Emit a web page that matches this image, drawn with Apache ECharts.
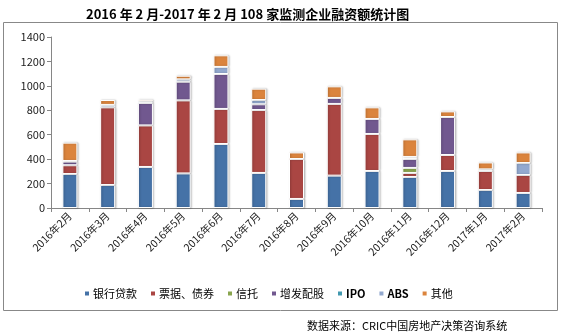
<!DOCTYPE html>
<html><head><meta charset="utf-8">
<script src="https://cdn.jsdelivr.net/npm/echarts@6/dist/echarts.min.js"></script>
<style>html,body{margin:0;padding:0;background:#fff}#c{width:561px;height:336px}</style>
</head><body><div id="c"></div>
<script>
const categories = ['2016年2月','2016年3月','2016年4月','2016年5月','2016年6月','2016年7月','2016年8月','2016年9月','2016年10月','2016年11月','2016年12月','2017年1月','2017年2月'];
const bankLoans = [278,188,336,283,524,287,74,265,303,254,303,147,123];
const notesBonds = [72,636,340,598,287,515,327,587,303,33,131,156,147];
const trust = [0,0,0,0,0,0,0,0,0,41,0,13,0];
const placement = [30,0,184,153,286,47,0,49,123,73,311,0,0];
const ipo = [0,0,0,0,0,0,0,0,0,0,0,0,0];
const abs = [5,20,13,19,58,35,0,0,0,17,0,0,98];
const others = [150,40,14,30,95,93,54,95,95,144,46,57,87];
const yTicks = [0,200,400,600,800,1000,1200,1400];

const names = ['银行贷款','票据、债券','信托','增发配股','IPO','ABS','其他'];
const colors = ['#4572A7','#AA4643','#89A54E','#71588F','#4198AF','#93A9CF','#DB843D'];
const datas = [bankLoans, notesBonds, trust, placement, ipo, abs, others];

const chart = echarts.init(document.getElementById('c'));
chart.setOption({
  animation:false,
  textStyle:{fontFamily:'"Noto Sans CJK SC", "Open Sans", sans-serif'},
  title:{text:'2016 年 2 月-2017 年 2 月 108 家监测企业融资额统计图', left:81, top:3,
    textStyle:{fontSize:13, fontWeight:'bold', color:'#000', fontFamily:'"Noto Sans CJK SC", sans-serif'}},
  graphic:[
    {type:'rect', shape:{x:3.5,y:22.5,width:554,height:288}, style:{fill:'none', stroke:'#888', lineWidth:1}, silent:true},
    {type:'text', left:307, top:320, style:{text:'数据来源：CRIC中国房地产决策咨询系统', fontSize:11, fill:'#000', fontFamily:'"Noto Sans CJK SC", sans-serif'}}
  ],
  legend:{left:78, top:283, itemWidth:6, itemHeight:6, itemGap:12, icon:'rect',
    formatter:n=>(n==='IPO'||n==='ABS')?'{b|'+n+'}':n,
    textStyle:{fontSize:11, color:'#000', padding:[0,0,0,-2],
      rich:{b:{fontSize:11, fontWeight:'bold', color:'#000'}}}, data:names},
  grid:{left:51, right:19, top:37, bottom:128},
  xAxis:{type:'category', data:categories,
    axisLine:{lineStyle:{color:'#868686'}},
    axisTick:{show:true, lineStyle:{color:'#868686'}, length:4},
    axisLabel:{rotate:45, fontSize:10.5, color:'#222', margin:6, interval:0}},
  yAxis:{type:'value', min:0, max:1400, interval:200,
    splitLine:{show:false},
    axisLine:{show:true, lineStyle:{color:'#868686'}},
    axisTick:{show:true, length:4, lineStyle:{color:'#868686'}},
    axisLabel:{fontSize:11, color:'#222', margin:6,
      formatter:v=>yTicks.includes(v)?String(v):''}},
  series: names.map((n,i)=>({
    name:n, type:'bar', stack:'total', barWidth:15,
    data: datas[i].map(v=>v===0?null:v),
    itemStyle:{color:colors[i], borderColor:'#fff', borderWidth:1,
      shadowColor:'rgba(0,0,0,0.25)', shadowBlur:2, shadowOffsetX:1, shadowOffsetY:0}
  }))
});
</script></body></html>
